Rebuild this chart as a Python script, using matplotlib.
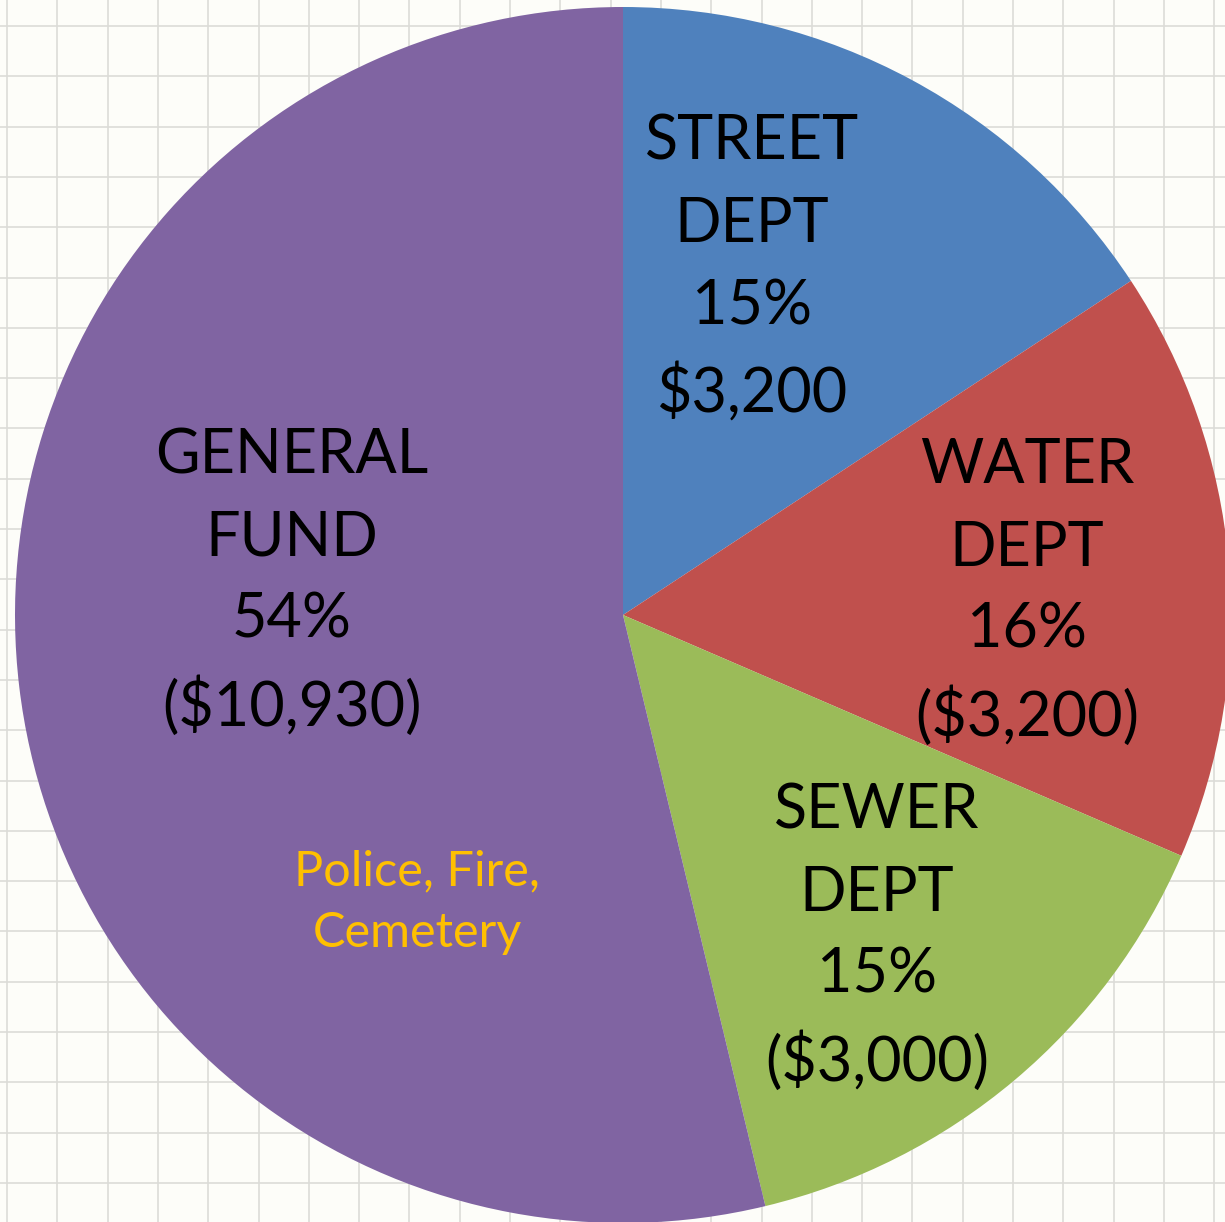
import numpy as np
import matplotlib
matplotlib.use("Agg")
import matplotlib.pyplot as plt

departments = ["STREET\nDEPT", "WATER\nDEPT", "SEWER\nDEPT", "GENERAL\nFUND"]
amounts = [3200, 3200, 3000, 10930]
percent_labels = ["15%", "16%", "15%", "54%"]
amount_labels = ["$3,200", "($3,200)", "($3,000)", "($10,930)"]
colors = ["#4F81BD", "#C0504D", "#9BBB59", "#8064A2"]
note_text = "Police, Fire,\nCemetery"

W, H = 1225, 1222
fig = plt.figure(figsize=(W / 100, H / 100), dpi=100)
fig.patch.set_facecolor("#FDFDF9")
ax = fig.add_axes([0, 0, 1, 1])

# graph paper background
for gx in np.arange(7, W, 50.3):
    ax.axvline(gx, color="#DCDCD8", lw=1.2, zorder=0)
for gy in np.arange(26, H, 50.3):
    ax.axhline(H - gy, color="#DCDCD8", lw=1.2, zorder=0)

cx, cy, r = 623, H - 615, 608
ax.pie(amounts, colors=colors, startangle=90, counterclock=False,
       center=(cx, cy), radius=r, frame=True,
       wedgeprops=dict(linewidth=0, zorder=2))
ax.set_xlim(0, W)
ax.set_ylim(0, H)
ax.set_aspect("equal")
ax.axis("off")

label_pos = [(752, 268), (1027, 592), (877, 937), (292, 582)]
for name, pct, amt, (px, py) in zip(departments, percent_labels, amount_labels, label_pos):
    ax.text(px, H - py, f"{name}\n{pct}\n{amt}", ha="center", va="center",
            fontsize=44, family="Lato", linespacing=1.55, color="black", zorder=5)

ax.text(417, H - 902, note_text, ha="center", va="center", fontsize=35,
        family="Lato", linespacing=1.5, color="#FFC000", zorder=5)

fig.savefig("out.png", dpi=100, facecolor=fig.get_facecolor())
